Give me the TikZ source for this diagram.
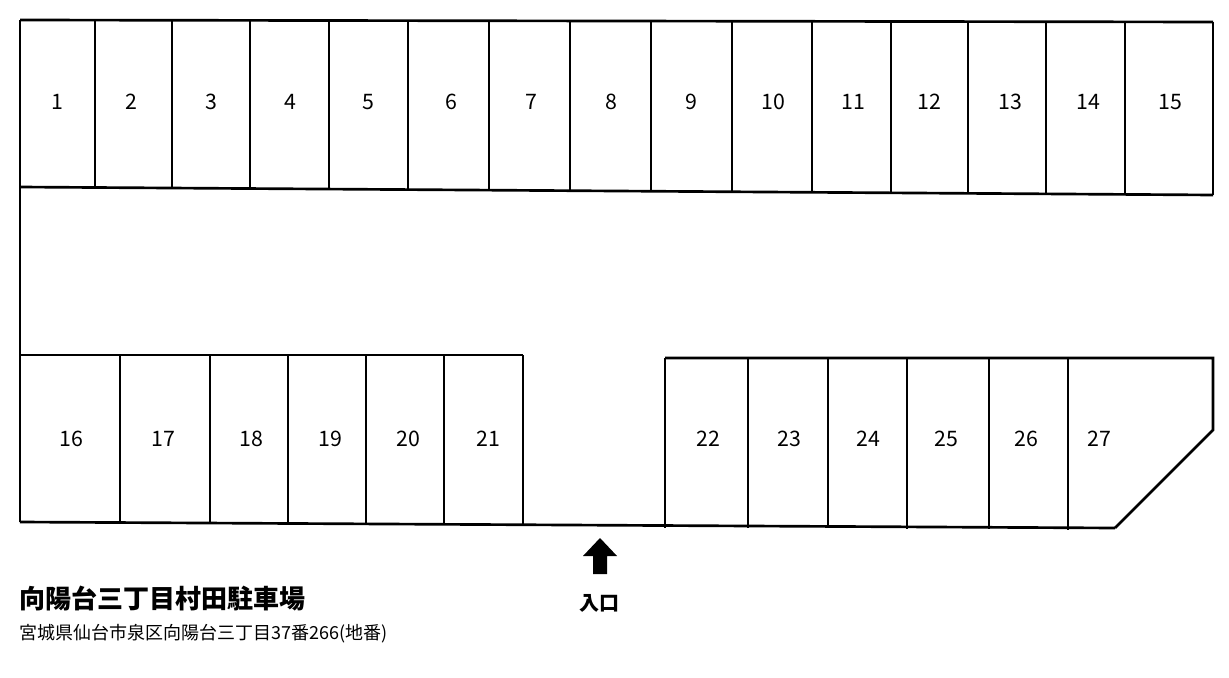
\documentclass[tikz,border=0pt]{standalone}
\usepackage{fontspec}
\setmainfont{Noto Sans CJK JP}
\begin{document}
\begin{tikzpicture}[x=0.75pt,y=-0.75pt,line width=2pt,
  lbl/.style={font=\fontsize{16}{16}\selectfont}]
\useasboundingbox (0,0) rectangle (1229,678);
% top row
\draw (20,20) -- (1213,22);
\draw (20,187) -- (1213,195);
\draw (20,20) -- (20,522);
\draw (1213,22) -- (1213,195);
\foreach \x in {95,172,250,329,408,489,570,651,732,812,891,968,1046,1125}
  \draw (\x,21) -- (\x,{187+8*(\x-20)/1193});
\foreach \x/\n in {57/1,131/2,211/3,290/4,368/5,451/6,531/7,611/8,691/9,773/10,853/11,929/12,1010/13,1088/14,1170/15}
  \node[lbl] (t\n) at (\x,102) {\n};
% bottom left
\draw (20,355) -- (523,355);
\draw (20,522) -- (1115,528);
\foreach \x in {120,210,288,366,444,523}
  \draw (\x,355) -- (\x,{522+6*(\x-20)/1095});
% bottom right
\draw (665,358) -- (1213,358) -- (1213,430) -- (1115,528);
\foreach \x in {665,748,828,907,989,1068}
  \draw (\x,358) -- (\x,{522+6*(\x-20)/1095+2});
\foreach \x/\n in {71/16,163/17,251/18,330/19,408/20,488/21,708/22,789/23,868/24,946/25,1026/26,1099/27}
  \node[lbl] (b\n) at (\x,439) {\n};
% entrance arrow
\fill[line width=0pt] (600,538) -- (617,556) -- (607,556) -- (607,574) -- (593,574) -- (593,556) -- (583,556) -- cycle;
\node[font=\bfseries\fontsize{15}{15}\selectfont] (ent) at (599,603) {入口};
\node[anchor=west,font=\bfseries\fontsize{19.5}{19.5}\selectfont] (title) at (14,599) {向陽台三丁目村田駐車場};
\node[anchor=west,font=\fontsize{13.5}{13.5}\selectfont] (addr) at (14,634) {宮城県仙台市泉区向陽台三丁目37番266(地番)};
\end{tikzpicture}
\end{document}
